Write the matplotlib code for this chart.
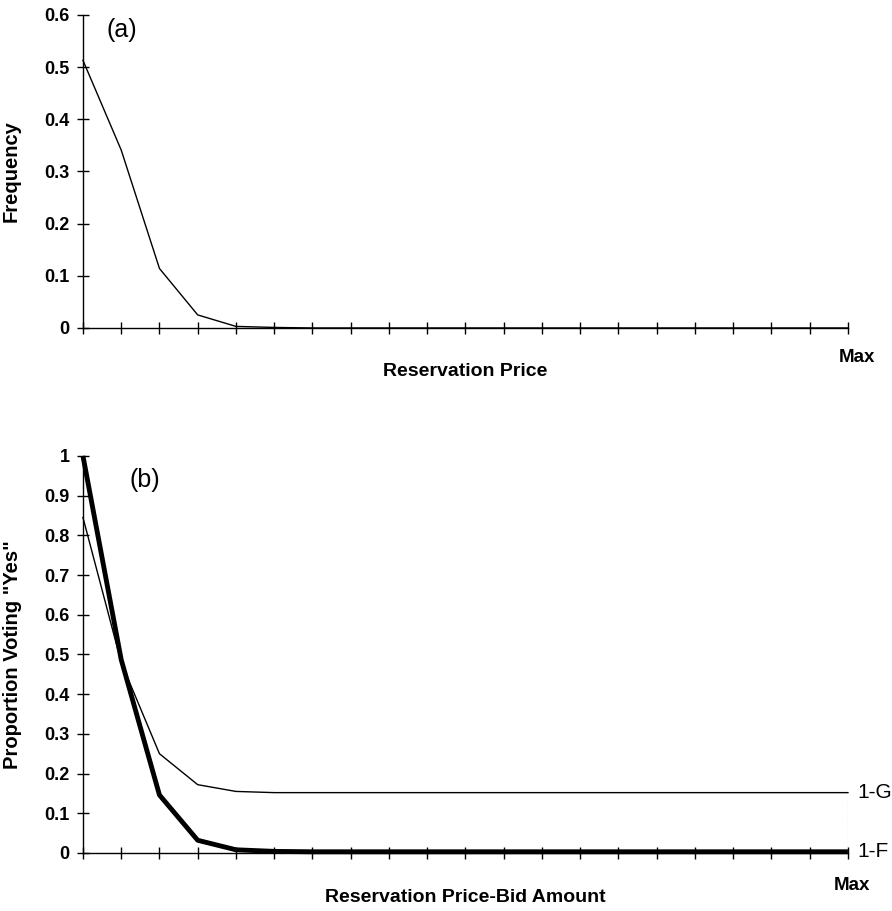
import matplotlib
matplotlib.use("Agg")
import matplotlib.pyplot as plt
import numpy as np

# bins from 0 up to "Max"
bins = list(range(21))

# panel (a): frequency of reservation prices
freq = [0.513, 0.341, 0.114, 0.025, 0.003, 0.001, 0.0, 0.0, 0.0, 0.0, 0.0,
        0.0, 0.0, 0.0, 0.0, 0.0, 0.0, 0.0, 0.0, 0.0, 0.0]

# panel (b): proportion voting "yes"
one_minus_f = [1.0, 0.487, 0.146, 0.032, 0.008, 0.004, 0.003, 0.003, 0.003, 0.003, 0.003,
               0.003, 0.003, 0.003, 0.003, 0.003, 0.003, 0.003, 0.003, 0.003, 0.003]
one_minus_g = [0.845, 0.48, 0.25, 0.172, 0.155, 0.152, 0.152, 0.152, 0.152, 0.152, 0.152,
               0.152, 0.152, 0.152, 0.152, 0.152, 0.152, 0.152, 0.152, 0.152, 0.152]

a_ticks = [0, 0.1, 0.2, 0.3, 0.4, 0.5, 0.6]
a_ticklabels = ["0", "0.1", "0.2", "0.3", "0.4", "0.5", "0.6"]
b_ticks = [0, 0.1, 0.2, 0.3, 0.4, 0.5, 0.6, 0.7, 0.8, 0.9, 1.0]
b_ticklabels = ["0", "0.1", "0.2", "0.3", "0.4", "0.5", "0.6", "0.7", "0.8", "0.9", "1"]

plt.rcParams['font.family'] = ['Liberation Sans', 'DejaVu Sans']

fig = plt.figure(figsize=(8.92, 9.11), dpi=100)
ax_a = fig.add_axes([0.093, 0.640, 0.8576, 0.3436])
ax_b = fig.add_axes([0.093, 0.0637, 0.8576, 0.4358])


def style_axes(ax, ticks, ticklabels, top):
    ax.set_xlim(0, 20)
    ax.set_ylim(0, top)
    for side in ('top', 'right'):
        ax.spines[side].set_visible(False)
    for side in ('left', 'bottom'):
        ax.spines[side].set_linewidth(1.0)
    ax.set_xticks(bins)
    ax.set_xticklabels([])
    ax.set_yticks(ticks)
    ax.set_yticklabels(ticklabels, fontweight='bold', fontsize=13)
    ax.tick_params(axis='both', direction='inout', length=9, width=1.0)
    ax.tick_params(axis='y', pad=5)


# (a)
style_axes(ax_a, a_ticks, a_ticklabels, 0.6)
ax_a.plot(bins, freq, color='black', lw=1.0, clip_on=False)
ax_a.set_ylabel('Frequency', fontweight='bold', fontsize=14.5)
ax_a.yaxis.set_label_coords(-0.082, 0.5)
ax_a.text(0.5, -0.14, 'Reservation Price', transform=ax_a.transAxes,
          ha='center', va='center', fontweight='bold', fontsize=14)
ax_a.text(1.012, -0.093, 'Max', transform=ax_a.transAxes,
          ha='center', va='center', fontweight='bold', fontsize=13.5)
ax_a.text(0.051, 0.952, '(a)', transform=ax_a.transAxes,
          ha='center', va='center', fontsize=18)

# (b)
style_axes(ax_b, b_ticks, b_ticklabels, 1.0)
ax_b.plot(bins, one_minus_g, color='black', lw=1.0, clip_on=False)
ax_b.plot(bins, one_minus_f, color='black', lw=3.5, clip_on=False,
          solid_capstyle='butt')
ax_b.plot([bins[-1], bins[-1]], [one_minus_f[-1], one_minus_g[-1]],
          color='gray', lw=0.8, ls=(0, (1, 1)))
ax_b.annotate('1-G', xy=(bins[-1], one_minus_g[-1]), xytext=(7, 0),
              textcoords='offset points', va='center', ha='left', fontsize=15)
ax_b.annotate('1-F', xy=(bins[-1], one_minus_f[-1]), xytext=(7, 0),
              textcoords='offset points', va='center', ha='left', fontsize=15)
ax_b.set_ylabel('Proportion Voting "Yes"', fontweight='bold', fontsize=14.5)
ax_b.yaxis.set_label_coords(-0.08, 0.5)
ax_b.text(0.5, -0.113, 'Reservation Price-Bid Amount', transform=ax_b.transAxes,
          ha='center', va='center', fontweight='bold', fontsize=14)
ax_b.text(1.005, -0.083, 'Max', transform=ax_b.transAxes,
          ha='center', va='center', fontweight='bold', fontsize=13.5)
ax_b.text(0.081, 0.94, '(b)', transform=ax_b.transAxes,
          ha='center', va='center', fontsize=18)

fig.savefig('out.png', dpi=100)
